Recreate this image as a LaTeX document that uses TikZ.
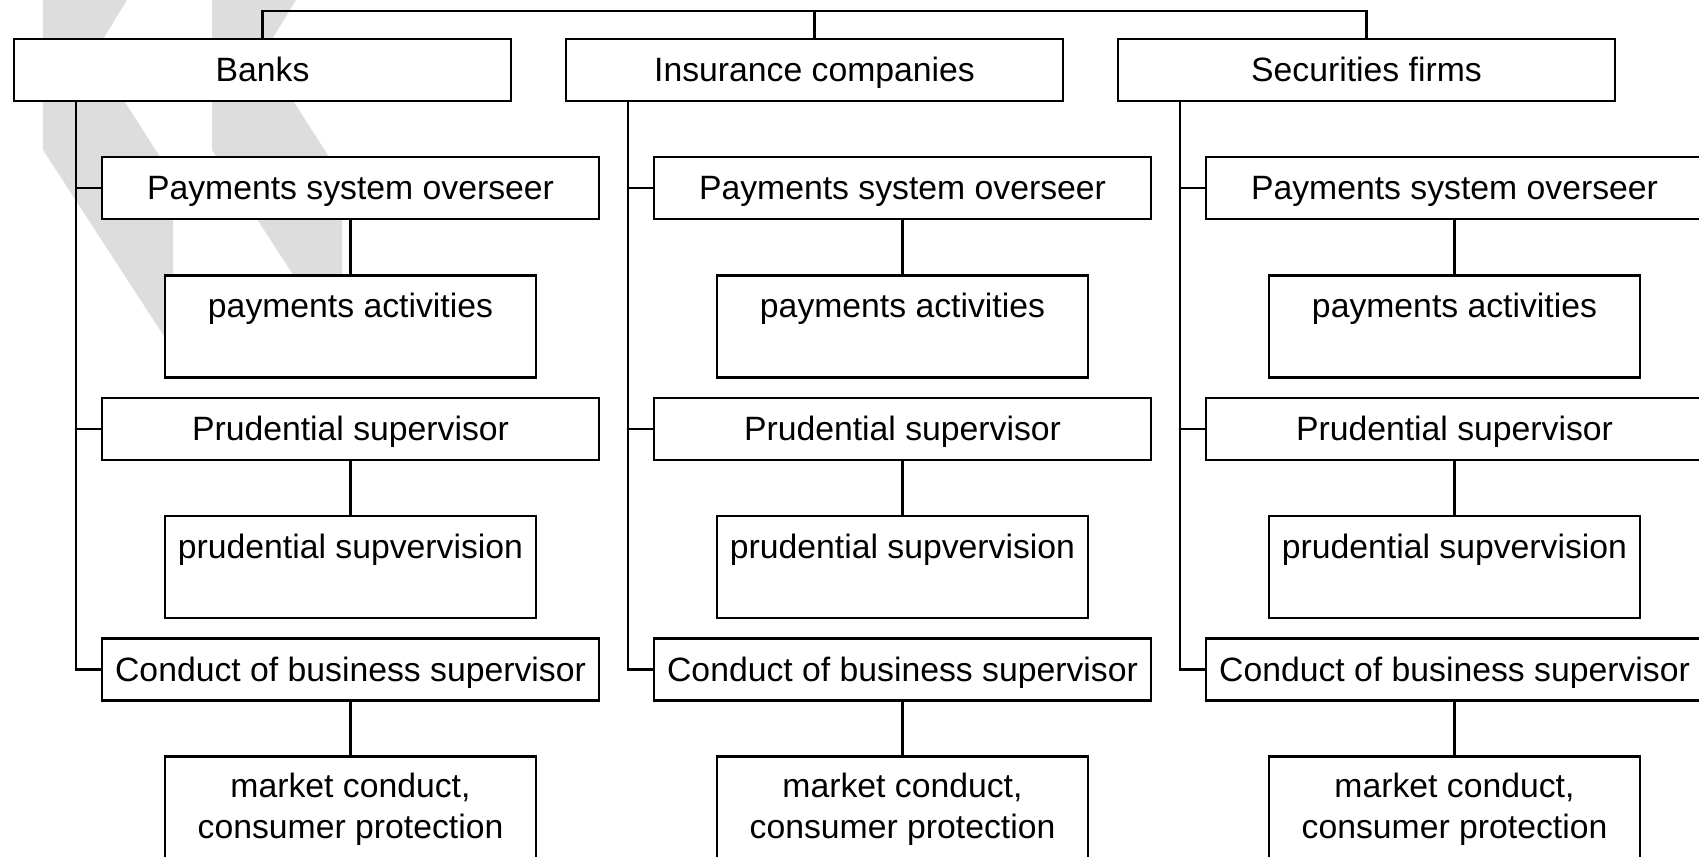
\documentclass[tikz,border=0pt]{standalone}
\usepackage{fontspec}
\setmainfont{Liberation Sans}
\usepackage{tikz}
\usetikzlibrary{positioning}
\definecolor{wmgray}{RGB}{221,221,221}

\begin{document}
\begin{tikzpicture}[line width=0.65pt, font=\fontsize{9.6}{11.66}\selectfont]
	\tikzset{orgbox/.style={draw, fill=white, inner sep=0pt, minimum width=4.97cm, minimum height=0.62cm, text height=6.9pt, text depth=0.35pt}}
	\tikzset{taskbox/.style={draw, fill=white, inner sep=0pt, minimum width=3.71cm, minimum height=1.02cm, text height=12pt, text depth=17pt, align=center}}
	\tikzset{taskbox2/.style={taskbox, text height=23.4pt, text depth=5.6pt}}
	\useasboundingbox (0,0) rectangle (16.99,8.57);
	\clip (0,0) rectangle (16.99,8.57);
	% watermark
	\fill[wmgray] (0.43,8.57) -- (1.27,8.57) -- (0.94,8.03) -- (1.73,6.80) -- (1.73,5.07) -- (0.43,7.07) -- cycle;
	\fill[wmgray] (2.12,8.57) -- (2.96,8.57) -- (2.63,8.03) -- (3.42,6.80) -- (3.42,5.07) -- (2.12,7.07) -- cycle;
	% sectors
	\node[orgbox] (banks) at (2.625,7.87) {Banks};
	\node[orgbox] (insur) at (8.145,7.87) {Insurance companies};
	\node[orgbox] (secur) at (13.665,7.87) {Securities firms};
	% banks
	\node[orgbox] (b-pay) at (3.505,6.69) {Payments system overseer};
	\node[taskbox] (b-payact) at (3.505,5.305) {payments activities};
	\node[orgbox] (b-prud) at (3.505,4.28) {Prudential supervisor};
	\node[taskbox] (b-prudact) at (3.505,2.90) {prudential supvervision};
	\node[orgbox] (b-cond) at (3.505,1.875) {Conduct of business supervisor};
	\node[taskbox2] (b-condact) at (3.505,0.495) {market conduct,\\consumer protection};
	% insurance companies
	\node[orgbox] (i-pay) at (9.025,6.69) {Payments system overseer};
	\node[taskbox] (i-payact) at (9.025,5.305) {payments activities};
	\node[orgbox] (i-prud) at (9.025,4.28) {Prudential supervisor};
	\node[taskbox] (i-prudact) at (9.025,2.90) {prudential supvervision};
	\node[orgbox] (i-cond) at (9.025,1.875) {Conduct of business supervisor};
	\node[taskbox2] (i-condact) at (9.025,0.495) {market conduct,\\consumer protection};
	% securities firms
	\node[orgbox] (s-pay) at (14.545,6.69) {Payments system overseer};
	\node[taskbox] (s-payact) at (14.545,5.305) {payments activities};
	\node[orgbox] (s-prud) at (14.545,4.28) {Prudential supervisor};
	\node[taskbox] (s-prudact) at (14.545,2.90) {prudential supvervision};
	\node[orgbox] (s-cond) at (14.545,1.875) {Conduct of business supervisor};
	\node[taskbox2] (s-condact) at (14.545,0.495) {market conduct,\\consumer protection};

	\coordinate (topbar) at (8.145,8.46);
	\coordinate (b-spine) at (0.76,7.56);
	\coordinate (i-spine) at (6.28,7.56);
	\coordinate (s-spine) at (11.80,7.56);

	\draw (banks.north) |- (topbar) -| (secur.north);
	\draw (insur.north) -- (topbar);

	\draw (b-spine) |- (b-cond.west);
	\draw (b-pay.west) -- (b-pay.west -| b-spine);
	\draw (b-prud.west) -- (b-prud.west -| b-spine);
	\draw (i-spine) |- (i-cond.west);
	\draw (i-pay.west) -- (i-pay.west -| i-spine);
	\draw (i-prud.west) -- (i-prud.west -| i-spine);
	\draw (s-spine) |- (s-cond.west);
	\draw (s-pay.west) -- (s-pay.west -| s-spine);
	\draw (s-prud.west) -- (s-prud.west -| s-spine);

	\path[draw]
		(b-pay) edge (b-payact)
		(b-prud) edge (b-prudact)
		(b-cond) edge (b-condact)
		(i-pay) edge (i-payact)
		(i-prud) edge (i-prudact)
		(i-cond) edge (i-condact)
		(s-pay) edge (s-payact)
		(s-prud) edge (s-prudact)
		(s-cond) edge (s-condact);
\end{tikzpicture}
\end{document}
